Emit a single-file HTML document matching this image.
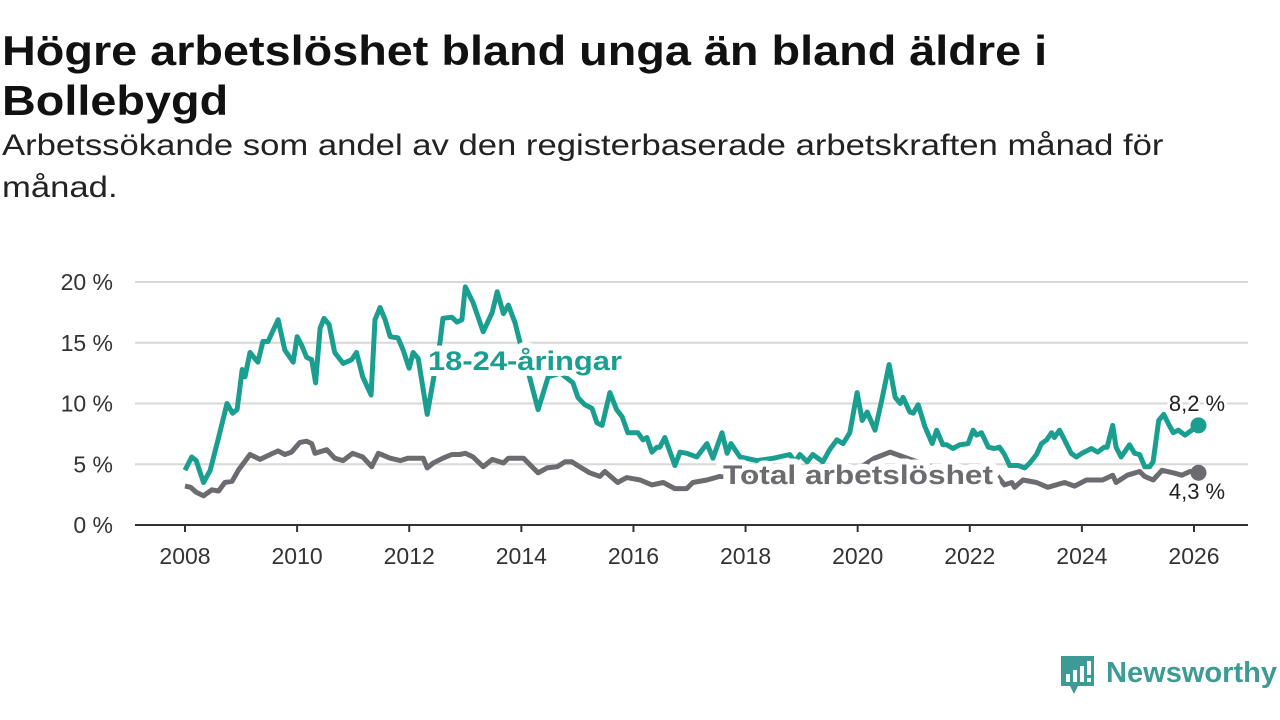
<!DOCTYPE html>
<html><head><meta charset="utf-8">
<style>
body{margin:0;width:1280px;height:720px;background:#fff;overflow:hidden;font-family:"Liberation Sans","DejaVu Sans",sans-serif;}
.ln{position:absolute;left:2px;white-space:nowrap;transform-origin:0 0;margin:0;}
.t{font-size:42px;line-height:42px;font-weight:bold;color:#111;transform:scaleX(1.114);}
.s{font-size:30px;line-height:30px;color:#222;transform:scaleX(1.155);}
svg{position:absolute;left:0;top:0;}
</style></head><body>
<div>
<div class="ln t" style="top:30px">Högre arbetslöshet bland unga än bland äldre i</div>
<div class="ln t" style="top:80px">Bollebygd</div>
</div>
<div>
<div class="ln s" style="top:131px">Arbetssökande som andel av den registerbaserade arbetskraften månad för</div>
<div class="ln s" style="top:173px">månad.</div>
</div>
<svg id="chart" width="1280" height="720"></svg>
<script>
const yTicks=[0,5,10,15,20];
const yTickLabels=["0 %","5 %","10 %","15 %","20 %"];
const xTicks=[2008,2010,2012,2014,2016,2018,2020,2022,2024,2026];
const youthT=[2008.0,2008.12,2008.2,2008.33,2008.45,2008.6,2008.75,2008.85,2008.93,2009.02,2009.07,2009.16,2009.3,2009.39,2009.48,2009.66,2009.78,2009.93,2010.0,2010.08,2010.17,2010.26,2010.33,2010.41,2010.48,2010.57,2010.67,2010.82,2010.97,2011.06,2011.17,2011.32,2011.39,2011.48,2011.57,2011.66,2011.8,2011.89,2012.0,2012.07,2012.16,2012.32,2012.55,2012.6,2012.76,2012.85,2012.94,2013.0,2013.14,2013.32,2013.48,2013.57,2013.68,2013.77,2013.89,2013.95,2014.1,2014.3,2014.48,2014.7,2014.92,2015.01,2015.13,2015.26,2015.35,2015.44,2015.58,2015.7,2015.8,2015.9,2016.08,2016.17,2016.24,2016.33,2016.42,2016.47,2016.56,2016.74,2016.83,2016.95,2017.13,2017.31,2017.42,2017.58,2017.67,2017.74,2017.9,2018.2,2018.5,2018.79,2018.88,2018.97,2019.1,2019.2,2019.38,2019.5,2019.63,2019.74,2019.86,2019.99,2020.08,2020.17,2020.31,2020.43,2020.56,2020.67,2020.76,2020.81,2020.93,2020.99,2021.08,2021.2,2021.33,2021.41,2021.52,2021.59,2021.7,2021.82,2021.97,2022.06,2022.12,2022.21,2022.33,2022.44,2022.53,2022.62,2022.71,2022.86,2022.98,2023.07,2023.19,2023.28,2023.37,2023.46,2023.51,2023.6,2023.69,2023.81,2023.9,2024.0,2024.17,2024.28,2024.4,2024.45,2024.55,2024.61,2024.7,2024.85,2024.94,2025.03,2025.12,2025.21,2025.27,2025.37,2025.46,2025.57,2025.63,2025.72,2025.84,2025.96,2026.08];
const youthV=[4.5,5.6,5.3,3.5,4.5,7.2,10,9.2,9.5,12.8,12.2,14.2,13.4,15.1,15.1,16.9,14.4,13.4,15.5,14.8,13.8,13.6,11.7,16.2,17,16.5,14.2,13.3,13.6,14.2,12.2,10.7,16.9,17.9,16.9,15.5,15.4,14.4,12.9,14.2,13.7,9.1,15.1,17,17.1,16.7,16.9,19.6,18.3,15.9,17.5,19.2,17.4,18.1,16.6,15.5,13,9.5,12.2,12.5,11.7,10.5,9.9,9.6,8.4,8.2,10.9,9.5,8.9,7.6,7.6,7,7.2,6,6.4,6.4,7.2,4.9,6,5.9,5.6,6.7,5.5,7.6,5.9,6.7,5.6,5.3,5.5,5.8,5.2,5.8,5.2,5.8,5.2,6.2,7,6.7,7.6,10.9,8.6,9.3,7.8,10.3,13.2,10.5,10,10.5,9.3,9.2,9.9,8.1,6.7,7.8,6.6,6.6,6.3,6.6,6.7,7.8,7.4,7.6,6.4,6.3,6.4,5.8,4.9,4.9,4.7,5.1,5.8,6.7,7,7.6,7.2,7.8,7,5.9,5.6,5.9,6.3,6,6.4,6.4,8.2,6.4,5.6,6.6,5.9,5.8,4.8,4.8,5.2,8.6,9.1,8.1,7.6,7.8,7.4,7.8,8.2];
const totalT=[2008.0,2008.1,2008.2,2008.33,2008.48,2008.6,2008.71,2008.84,2008.95,2009.16,2009.34,2009.52,2009.66,2009.78,2009.9,2010.05,2010.17,2010.26,2010.32,2010.53,2010.67,2010.82,2010.99,2011.17,2011.33,2011.45,2011.66,2011.84,2011.98,2012.25,2012.32,2012.43,2012.6,2012.76,2012.9,2013.0,2013.14,2013.32,2013.48,2013.68,2013.77,2014.04,2014.19,2014.3,2014.46,2014.64,2014.78,2014.9,2015.04,2015.22,2015.4,2015.49,2015.72,2015.88,2016.12,2016.33,2016.53,2016.74,2016.95,2017.06,2017.31,2017.54,2018.0,2018.5,2019.0,2019.5,2019.9,2020.3,2020.58,2021.0,2021.5,2022.0,2022.5,2022.62,2022.75,2022.8,2022.95,2023.19,2023.39,2023.69,2023.87,2024.08,2024.37,2024.55,2024.61,2024.81,2025.03,2025.12,2025.27,2025.43,2025.63,2025.78,2025.93,2026.08];
const totalV=[3.2,3.1,2.7,2.4,2.9,2.8,3.5,3.6,4.5,5.8,5.4,5.8,6.1,5.8,6,6.8,6.9,6.7,5.9,6.2,5.5,5.3,5.9,5.6,4.8,5.9,5.5,5.3,5.5,5.5,4.7,5.1,5.5,5.8,5.8,5.9,5.6,4.8,5.4,5.1,5.5,5.5,4.8,4.3,4.7,4.8,5.2,5.2,4.8,4.3,4,4.4,3.5,3.9,3.7,3.3,3.5,3,3,3.5,3.7,4,3.9,3.8,3.9,4,4.3,5.5,6,5.3,4.5,4,4,3.3,3.5,3.1,3.7,3.5,3.1,3.5,3.2,3.7,3.7,4.1,3.5,4.1,4.4,4,3.7,4.5,4.3,4.1,4.4,4.3];
const lastLabels=["8,2 %","4,3 %"];

const NS="http://www.w3.org/2000/svg";
const svg=document.getElementById('chart');
const X0=135,X1=1248,Y0=525;
const xs=t=>185+(t-2008)*(1194-185)/18;
const ys=v=>Y0-v*(525-282)/20;
function mk(tag,attrs,parent){const e=document.createElementNS(NS,tag);for(const k in attrs)e.setAttribute(k,attrs[k]);(parent||svg).appendChild(e);return e;}

yTicks.forEach((v,i)=>{
  if(v>0){const g=mk('line',{x1:X0,x2:X1,y1:ys(v),y2:ys(v),stroke:'#d8d8d8','stroke-width':2});
  
  }
  const t=mk('text',{x:113,y:ys(v)+8,'text-anchor':'end','font-size':23,fill:'#333'});
  t.textContent=yTickLabels[i];
  
  
});
const ax=mk('line',{x1:X0,x2:X1,y1:Y0,y2:Y0,stroke:'#333','stroke-width':2});


xTicks.forEach(yr=>{
  const tk=mk('line',{x1:xs(yr),x2:xs(yr),y1:Y0,y2:Y0+7,stroke:'#333','stroke-width':2});
  
  
  const t=mk('text',{x:xs(yr),y:564,'text-anchor':'middle','font-size':23,fill:'#333'});
  t.textContent=yr;
  
  
});
function path(T,V){return T.map((t,i)=>(i?'L':'M')+xs(t).toFixed(1)+','+ys(V[i]).toFixed(1)).join('');}
const tl=mk('path',{d:path(totalT,totalV),fill:'none',stroke:'#6b6b70','stroke-width':5,'stroke-linejoin':'round'});


const yl=mk('path',{d:path(youthT,youthV),fill:'none',stroke:'#1a9e8f','stroke-width':5,'stroke-linejoin':'round'});


const d1=mk('circle',{cx:xs(youthT[youthT.length-1]),cy:ys(youthV[youthV.length-1]),r:8,fill:'#1a9e8f'});


const d2=mk('circle',{cx:xs(totalT[totalT.length-1]),cy:ys(totalV[totalV.length-1]),r:8,fill:'#6b6b70'});


const halo={'paint-order':'stroke',stroke:'#fff','stroke-width':12,'stroke-linejoin':'round'};
const l1=mk('text',Object.assign({x:428,y:370,'font-size':27,'font-weight':'bold',fill:'#1a9e8f',textLength:194,lengthAdjust:'spacingAndGlyphs'},halo));
l1.textContent='18-24-åringar';


const l2=mk('text',Object.assign({x:723,y:484,'font-size':27,'font-weight':'bold',fill:'#6b6b70',textLength:270,lengthAdjust:'spacingAndGlyphs'},halo));
l2.textContent='Total arbetslöshet';


const e1=mk('text',Object.assign({x:1197,y:411,'text-anchor':'middle','font-size':22,fill:'#222'},halo,{'stroke-width':6}));
e1.textContent=lastLabels[0];


const e2=mk('text',Object.assign({x:1197,y:499,'text-anchor':'middle','font-size':22,fill:'#222'},halo,{'stroke-width':6}));
e2.textContent=lastLabels[1];



// logo
const lg=mk('g',{});


mk('path',{d:'M1061,656h33v30h-16l-4,8l-4,-8h-9z',fill:'#3e9a94'},lg);
mk('rect',{x:1066,y:674,width:4,height:8,fill:'#fff'},lg);
mk('rect',{x:1073,y:670,width:4,height:12,fill:'#fff'},lg);
mk('rect',{x:1080,y:666,width:4,height:16,fill:'#fff'},lg);
mk('rect',{x:1087,y:661,width:4,height:14,fill:'#fff'},lg);
mk('rect',{x:1087,y:678,width:4,height:4,fill:'#fff'},lg);
const lt=mk('text',{x:1106,y:682,'font-size':29,'font-weight':'bold',fill:'#3e9a94',textLength:171,lengthAdjust:'spacingAndGlyphs'},lg);
lt.textContent='Newsworthy';
</script>
</body></html>
